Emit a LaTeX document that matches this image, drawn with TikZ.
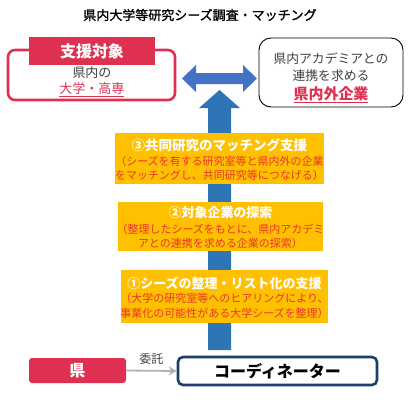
\documentclass[tikz,border=0pt]{standalone}
\usepackage{fontspec}
\setmainfont{Noto Sans CJK JP}
\newfontfamily\titlefont{Noto Sans CJK JP}[RawFeature={embolden=1.2}]
\usetikzlibrary{positioning,arrows.meta}
\definecolor{crim}{HTML}{DE3152}
\definecolor{arrblue}{HTML}{2E75B6}
\definecolor{darrblue}{HTML}{4472C4}
\definecolor{orng}{HTML}{FFC000}
\definecolor{redtxt}{HTML}{E8352A}
\definecolor{navy}{HTML}{1F3F68}
\definecolor{graytxt}{HTML}{404040}
\tikzset{
  obox/.style={fill=orng, draw=none, inner sep=0pt},
  head/.style={font=\fontsize{13}{13}\selectfont\bfseries, text=white, inner sep=0pt},
  sub/.style={font=\fontsize{11}{11}\selectfont, text=redtxt, inner sep=0pt},
  plain/.style={inner sep=0pt, text=graytxt},
}
\begin{document}
\begin{tikzpicture}[x=1pt,y=-1pt]
\useasboundingbox (0,0) rectangle (408,408);
% title
\node[inner sep=0pt, font=\titlefont\fontsize{13}{13}\selectfont] (title) at (200,15) {県内大学等研究シーズ調査・マッチング};
% vertical arrow
\fill[arrblue] (208,350) -- (208,108) -- (199,108) -- (219.5,90) -- (240,108) -- (231,108) -- (231,350) -- cycle;
% left box
\draw[crim, line width=2.6pt, rounded corners=7pt] (8,50) rectangle (175,100);
\node[fill=crim, minimum width=126pt, minimum height=28pt, inner sep=0pt, text=white, font=\fontsize{16}{16}\selectfont\bfseries] (tag) at (92,51) {支援対象};
\node[plain, font=\fontsize{13}{13}\selectfont] (l1) at (92,73) {県内の};
\node[inner sep=0pt, text=crim, font=\fontsize{13}{13}\selectfont] (l2) at (92,90) {\underline{大学・高専}};
% right box
\draw[black, line width=0.9pt, rounded corners=12pt] (259,38) rectangle (403,107);
\node[plain, font=\fontsize{12.8}{12.8}\selectfont] (r1) at (331,59) {県内アカデミアとの};
\node[plain, font=\fontsize{12.8}{12.8}\selectfont] (r2) at (331,76) {連携を求める};
\node[inner sep=0pt, text=crim, font=\fontsize{15}{15}\selectfont\bfseries] (r3) at (331,95) {\underline{県内外企業}};
% double arrow
\fill[darrblue] (182,78.5) -- (196,65) -- (196,73) -- (243,73) -- (243,65) -- (257,78.5) -- (243,92) -- (243,84) -- (196,84) -- (196,92) -- cycle;
% box 3
\node[obox, minimum width=209pt, minimum height=51pt] (b3) at (219.5,158.5) {};
\node[head, font=\fontsize{13.5}{13.5}\selectfont\bfseries] (b3h) at (219.5,145) {③共同研究のマッチング支援};
\node[sub] (b3a) at (219.5,161) {（シーズを有する研究室等と県内外の企業};
\node[sub] (b3b) at (219.5,175.5) {をマッチングし、共同研究等につなげる）};
% box 2
\node[obox, minimum width=205pt, minimum height=49pt] (b2) at (220.5,226.5) {};
\node[head] (b2h) at (220.5,213) {②対象企業の探索};
\node[sub] (b2a) at (220.5,229) {（整理したシーズをもとに、県内アカデミ};
\node[sub] (b2b) at (220.5,243) {アとの連携を求める企業の探索）};
% box 1
\node[obox, minimum width=207pt, minimum height=53pt] (b1) at (224.5,296.5) {};
\node[head] (b1h) at (224.5,283) {①シーズの整理・リスト化の支援};
\node[sub] (b1a) at (224.5,298.5) {（大学の研究室等へのヒアリングにより、};
\node[sub] (b1b) at (224.5,313) {事業化の可能性がある大学シーズを整理）};
% bottom
\node[fill=crim, rounded corners=3pt, minimum width=97pt, minimum height=25pt, inner sep=0pt, text=white, font=\fontsize{16}{16}\selectfont\bfseries] (ken) at (77.5,370.5) {県};
\node[draw=navy, line width=2.6pt, rounded corners=5pt, fill=white, minimum width=199pt, minimum height=28pt, inner sep=0pt, font=\fontsize{16}{16}\selectfont\bfseries] (coord) at (277.5,371) {コーディネーター};
\draw[gray!60, line width=1.8pt, -{Stealth[length=8pt,width=9pt]}] (ken.east) -- (coord.west) node[midway, above=5pt, text=graytxt, font=\fontsize{12}{12}\selectfont, inner sep=0pt] (itaku) {委託};
\end{tikzpicture}
\end{document}
